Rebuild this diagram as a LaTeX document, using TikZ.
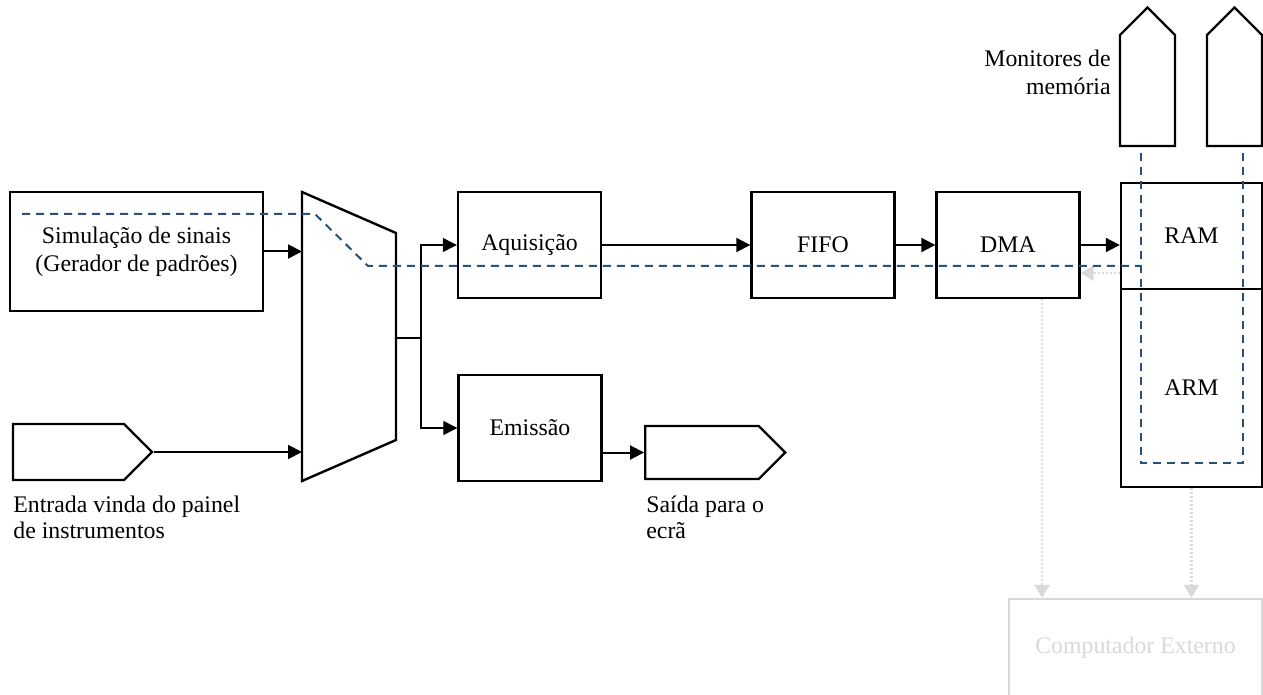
\documentclass[tikz,border=0pt]{standalone}
\usepackage{fontspec}
\setmainfont{Liberation Serif}
\usepackage{tikz}
\usetikzlibrary{shapes.symbols, arrows.meta, positioning, calc}
\definecolor{probeBlue}{RGB}{40,80,125}
\definecolor{lightGray}{RGB}{217,217,217}
\tikzstyle{block} = [rectangle, draw=black, line width=1.2pt, inner sep=0pt, minimum width=71.5pt, minimum height=53pt, text centered]
\tikzstyle{port} = [signal, signal pointer angle=90, draw=black, line width=1.2pt, inner sep=0pt]
\tikzstyle{caption} = [align=left, inner sep=0pt]
\tikzstyle{flow} = [line width=1pt, -{Triangle[length=7pt, width=7pt]}]
\tikzstyle{thinflow} = [flow, line width=0.6pt]
\tikzstyle{probe} = [draw=probeBlue, line width=1pt, dash pattern=on 4pt off 3pt]
\tikzstyle{hostlink} = [draw=lightGray, line width=1.2pt, dash pattern=on 1pt off 1pt, -{Triangle[length=6.5pt, width=7.5pt, fill=lightGray]}]

\begin{document}
\begin{tikzpicture}[x=0.5pt, y=-0.5pt, font=\fontsize{11.9}{13}\selectfont]
\useasboundingbox (0,0) rectangle (1263,695);

% blocks
\node (simulation) [block, minimum width=126.5pt, minimum height=59.5pt, align=center, font=\fontsize{11.9}{14}\selectfont] at (136.5,251.5) {Simulação de sinais\\(Gerador de padrões)};
\node (aquisition) [block] at (529.5,245) {Aquisição};
\node (fifo) [block] at (823,245) {FIFO};
\node (dma) [block] at (1008,245) {DMA};
\node (emission) [block] at (530,428) {Emissão};
\node (ram) [block, minimum width=70.5pt] at (1191.5,236) {RAM};
\node (arm) [block, minimum width=70.5pt, minimum height=99pt] at (1191.5,388) {ARM};
\node (externalPc) [block, draw=lightGray, text=lightGray, minimum width=126.5pt, minimum height=49pt] at (1135.5,648) {Computador Externo};

% ports
\node (inputPanel) [port, signal to=east, minimum width=69.5pt, minimum height=28pt] at (68.5,452) {};
\node (outputScreen) [port, signal to=east, minimum width=70pt, minimum height=26.5pt] at (702,452.5) {};
\node (monitorA) [port, signal to=north, minimum width=27.5pt, minimum height=55.5pt] at (1147.5,90.5) {};
\node (monitorB) [port, signal to=north, minimum width=27.5pt, minimum height=55.5pt] at (1234.5,90.5) {};

\node (inputLabel) [caption, anchor=north west] at (13,495.5) {Entrada vinda do painel\\de instrumentos};
\node (outputLabel) [caption, anchor=north west] at (646,495.5) {Saída para o\\ecrã};
\node (monitorLabel) [caption, align=right, anchor=north east, font=\fontsize{11.9}{14}\selectfont] at (1111,49.5) {Monitores de\\memória};

% multiplexer
\draw[line width=1.2pt] (302,192) -- (396,233) -- (396,440) -- (302,481) -- cycle;
\coordinate (muxInA) at (302,251.5);
\coordinate (muxInB) at (302,452);
\coordinate (muxOut) at (396,338);
\coordinate (fork) at (421,338);

\draw[flow] (simulation.east) -- (muxInA);
\draw[flow] (inputPanel.east) -- (muxInB);
\draw[line width=0.6pt] (muxOut) -- (fork);
\draw[thinflow] (fork) |- (aquisition.west);
\draw[thinflow] (fork) |- (emission.west);
\draw[flow] (aquisition) -- (fifo);
\draw[flow] (fifo) -- (dma);
\draw[flow] (dma.east) -- (dma.east -| ram.west);
\draw[flow] (emission.east |- outputScreen.west) -- (outputScreen.west);

% links to the host
\coordinate (hostTap) at ($(ram.south west)+(0,-17)$);
\coordinate (dmaTap) at ($(dma.south)+(34,0)$);
\draw[hostlink] (hostTap) -- (hostTap -| dma.east);
\draw[hostlink] (dmaTap) -- (dmaTap |- externalPc.north);
\draw[hostlink] (arm.south) -- (arm.south |- externalPc.north);

% memory probe
\coordinate (probeStart) at (22,214);
\coordinate (probeKnee) at (315,214);
\coordinate (probeLow) at (368,266);
\coordinate (probeTap) at (1141,266);
\coordinate (probeTopA) at (1141,153);
\coordinate (probeCornerA) at (1141,463);
\coordinate (probeCornerB) at (1243,463);
\coordinate (probeTopB) at (1243,148);
\draw[probe] (probeStart) -- (probeKnee) -- (probeLow) -- (probeTap);
\draw[probe] (probeTopA) -- (probeCornerA) -- (probeCornerB) -- (probeTopB);

\end{tikzpicture}
\end{document}
